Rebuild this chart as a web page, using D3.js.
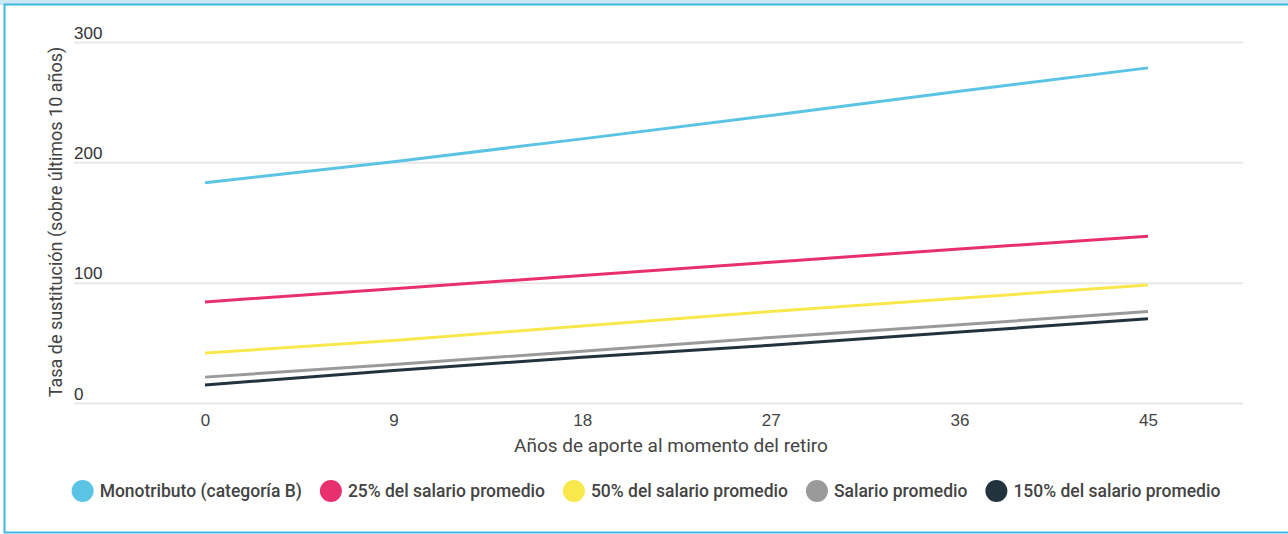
<!DOCTYPE html>
<html>
<head>
<meta charset="utf-8">
<script src="https://cdn.jsdelivr.net/npm/d3@7"></script>
<style>
  html, body { margin: 0; padding: 0; background: #fff; overflow: hidden; }
  svg { display: block; font-family: Roboto, "Noto Sans", sans-serif; }
</style>
</head>
<body>
<svg id="chart" width="1288" height="534"></svg>
<script>
// ---- data ----
const years = [0, 9, 18, 27, 36, 45];
const xTicks = [0, 9, 18, 27, 36, 45];
const yTicks = [0, 100, 200, 300];
const seriesNames = [
  "Monotributo (categoría B)",
  "25% del salario promedio",
  "50% del salario promedio",
  "Salario promedio",
  "150% del salario promedio"
];
const monotributo = [183, 200.5, 219.5, 239, 259, 278.5];
const salario25 = [84, 95, 106, 117, 128, 138.5];
const salario50 = [41.5, 52, 64, 76, 87, 98];
const salario100 = [21.5, 32, 43, 54.5, 65, 76];
const salario150 = [15, 27, 38, 48, 59, 70];
const seriesColors = ["#5bc4e5", "#e8306e", "#f8e84b", "#9a9a9a", "#22333d"];

const allSeries = [monotributo, salario25, salario50, salario100, salario150];

const svg = d3.select("#chart");

// frame
svg.append("rect").attr("x", 0).attr("y", 0).attr("width", 1288).attr("height", 5).attr("fill", "#cce7f5");
svg.append("rect").attr("x", 4.5).attr("y", 4.5).attr("width", 1300).attr("height", 528)
  .attr("fill", "none").attr("stroke", "#41b6df").attr("stroke-width", 2);

// scales
const x = d3.scaleLinear().domain([0, 45]).range([205, 1148]);
const y = d3.scaleLinear().domain([0, 300]).range([403, 42]);
const gridX0 = 74, gridX1 = 1243;

// y grid + labels
const yAxis = d3.axisLeft(y).tickValues(yTicks).tickSize(-(gridX1 - gridX0)).tickFormat(d3.format("d"));
const yg = svg.append("g").attr("transform", `translate(${gridX0},0)`).call(yAxis);
yg.select(".domain").remove();
yg.selectAll(".tick line").attr("stroke", "#e8e8e8").attr("stroke-width", 2).attr("x1", 0).attr("x2", gridX1 - gridX0);
yg.selectAll(".tick text").attr("x", 0).attr("dy", -4).attr("text-anchor", "start")
  .attr("fill", "#333").style("font-size", "17px");

// x axis labels
const xAxis = d3.axisBottom(x).tickValues(xTicks).tickSize(0).tickFormat(d3.format("d"));
const xg = svg.append("g").attr("transform", `translate(0,403)`).call(xAxis);
xg.select(".domain").remove();
xg.selectAll(".tick text").attr("dy", 0).attr("y", 23).attr("fill", "#444").style("font-size", "17px");

// axis titles
svg.append("text").attr("transform", "translate(62,222) rotate(-90)").attr("text-anchor", "middle")
  .attr("fill", "#444").style("font-size", "18px").text("Tasa de sustitución (sobre últimos 10 años)");
svg.append("text").attr("x", 671).attr("y", 452).attr("text-anchor", "middle")
  .attr("fill", "#444").style("font-size", "19px").text("Años de aporte al momento del retiro");

// lines
const line = d3.line().x((d, i) => x(years[i])).y(d => y(d));
allSeries.forEach((s, i) => {
  svg.append("path").datum(s).attr("d", line).attr("fill", "none")
    .attr("stroke", seriesColors[i]).attr("stroke-width", 3);
});

// legend
const lg = svg.append("g");
let cx = 0;
seriesNames.forEach((name, i) => {
  const g = lg.append("g");
  g.append("circle").attr("cx", cx + 11).attr("cy", 0).attr("r", 11).attr("fill", seriesColors[i]);
  const t = g.append("text").attr("x", cx + 28).attr("y", 6).attr("fill", "#444")
    .style("font-size", "17.5px").style("font-weight", "500").text(name);
  const w = t.node().getComputedTextLength();
  cx += 28 + w + 18;
});
const totalW = cx - 18;
lg.attr("transform", `translate(${646 - totalW / 2},491)`);
</script>
</body>
</html>
